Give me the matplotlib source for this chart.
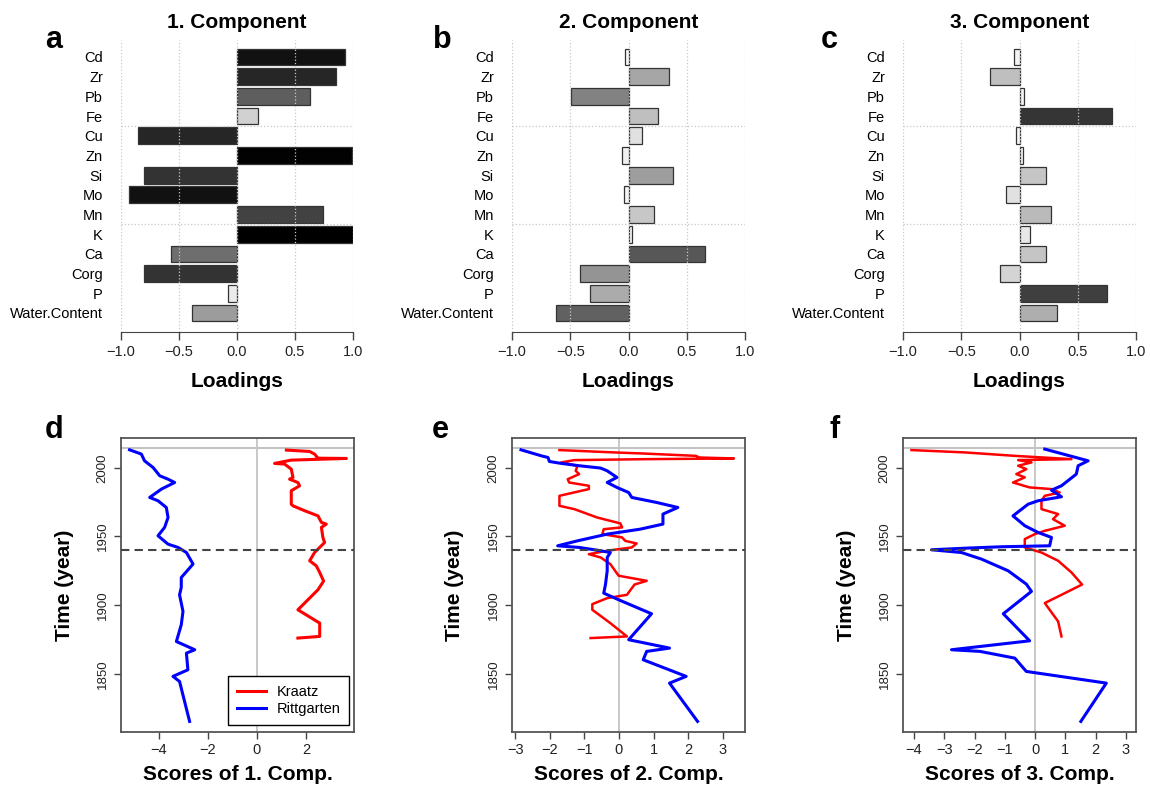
import numpy as np
import matplotlib
matplotlib.use('Agg')
import matplotlib.pyplot as plt

plt.rcParams['font.family'] = ['Liberation Sans', 'DejaVu Sans']

############################################################################################################
# Data

elements = ['Cd', 'Zr', 'Pb', 'Fe', 'Cu', 'Zn', 'Si', 'Mo', 'Mn', 'K', 'Ca', 'Corg', 'P', 'Water.Content']

load1 = [0.93, 0.85, 0.63, 0.18, -0.85, 0.99, -0.80, -0.93, 0.74, 1.00, -0.57, -0.80, -0.08, -0.39]
load2 = [-0.03, 0.35, -0.49, 0.25, 0.12, -0.06, 0.38, -0.04, 0.22, 0.03, 0.66, -0.42, -0.33, -0.62]
load3 = [-0.05, -0.25, 0.04, 0.79, -0.03, 0.03, 0.23, -0.12, 0.27, 0.09, 0.23, -0.17, 0.75, 0.32]

# Scores of 1. component
yr_k1 = [2012.9, 2011.9, 2010.0, 2007.0, 2006.8, 2005.6, 2003.2, 2002.7, 1999.0, 1993.0, 1991.7, 1989.3,
         1986.9, 1983.3, 1973.5, 1972.3, 1968.7, 1965.0, 1960.2, 1959.0, 1956.6, 1949.3, 1945.6, 1940.8,
         1938.3, 1932.3, 1928.6, 1923.8, 1917.5, 1911.2, 1896.6, 1886.9, 1877.2, 1876.0]
sc_k1 = [1.20, 2.15, 2.35, 2.49, 3.65, 1.40, 0.72, 1.13, 1.40, 1.47, 1.33, 1.67, 1.74, 1.40, 1.40, 1.47,
         1.95, 2.49, 2.63, 2.83, 2.63, 2.69, 2.76, 2.49, 2.35, 2.15, 2.42, 2.56, 2.72, 2.49, 1.67, 2.56,
         2.56, 1.67]
yr_r1 = [2013.1, 2010.0, 2005.1, 2000.2, 1994.2, 1991.7, 1989.3, 1984.5, 1978.4, 1976.0, 1971.1, 1963.8,
         1956.6, 1950.5, 1944.4, 1942.0, 1938.3, 1929.9, 1920.1, 1912.9, 1907.5, 1895.4, 1885.7, 1873.5,
         1867.5, 1865.0, 1852.9, 1848.1, 1844.4, 1815.3]
sc_r1 = [-5.20, -4.72, -4.59, -4.24, -3.97, -3.63, -3.36, -3.90, -4.38, -4.04, -3.70, -3.63, -3.77, -4.04,
         -3.63, -3.22, -2.88, -2.61, -3.09, -3.09, -3.16, -3.02, -3.09, -3.29, -2.54, -2.88, -2.82, -3.43,
         -3.16, -2.75]

# Scores of 2. component
yr_k2 = [2012.9, 2011.2, 2010.4, 2008.7, 2007.5, 2006.8, 2006.3, 2005.6, 2003.9, 2001.5, 1997.8, 1995.4,
         1991.7, 1989.3, 1986.9, 1984.5, 1979.6, 1972.3, 1969.9, 1963.8, 1959.5, 1956.6, 1955.3, 1951.7,
         1949.3, 1946.8, 1944.9, 1942.0, 1939.6, 1937.1, 1934.7, 1929.9, 1921.4, 1917.7, 1915.0, 1907.5,
         1905.1, 1900.7, 1896.6, 1886.9, 1877.2, 1876.0]
sc_k2 = [-1.72, -0.15, 0.70, 2.22, 2.32, 3.32, 0.80, -1.29, -1.67, -1.20, -1.25, -1.15, -1.48, -1.44,
         -0.87, -0.87, -1.72, -1.72, -1.29, -0.63, 0.04, 0.09, -0.44, -0.48, 0.09, 0.18, 0.51, 0.37,
         -0.34, -0.87, -0.53, -0.25, -0.01, 0.80, 0.45, 0.23, -0.34, -0.77, -0.77, -0.25, 0.23, -0.82]
yr_r2 = [2013.1, 2008.7, 2007.5, 2004.6, 2003.2, 2001.5, 1999.8, 1997.8, 1993.0, 1989.3, 1985.7, 1982.0,
         1978.4, 1974.8, 1971.1, 1966.3, 1959.0, 1955.3, 1951.7, 1946.8, 1943.2, 1942.0, 1940.0, 1938.3,
         1934.7, 1925.0, 1915.0, 1908.7, 1903.9, 1893.7, 1874.8, 1868.7, 1866.3, 1860.2, 1848.1, 1843.2,
         1815.3]
sc_r2 = [-2.83, -2.24, -2.05, -2.01, -1.67, -1.15, -0.53, -0.34, -0.06, -0.34, -0.06, 0.28, 0.37, 1.08,
         1.70, 1.27, 1.27, 0.61, -0.34, -1.20, -1.77, -1.15, -0.63, -0.25, -0.34, -0.34, -0.39, -0.44,
         -0.01, 0.94, 0.28, 1.46, 0.80, 0.70, 1.94, 1.46, 2.27]

# Scores of 3. component
yr_k3 = [2012.9, 2011.2, 2008.7, 2006.3, 2005.6, 2003.9, 2001.5, 1999.0, 1995.4, 1993.0, 1989.3, 1985.7,
         1984.5, 1982.0, 1979.6, 1976.0, 1969.9, 1966.3, 1962.6, 1957.8, 1954.1, 1951.7, 1948.1, 1942.0,
         1938.3, 1932.3, 1923.8, 1915.0, 1907.5, 1901.5, 1888.1, 1877.2]
sc_k3 = [-4.08, -2.32, -0.67, 1.20, -0.56, -0.12, -0.56, -0.29, -0.62, -0.34, -0.73, -0.18, 0.54, 0.81,
         0.32, 0.21, 0.21, 0.76, 0.59, 0.98, 0.32, -0.01, -0.34, -0.34, 0.21, 0.76, 1.20, 1.55, 0.87,
         0.32, 0.76, 0.87]
yr_r3 = [2013.6, 2005.1, 2001.5, 1995.4, 1986.9, 1983.7, 1978.9, 1976.0, 1973.5, 1965.0, 1957.8, 1952.9,
         1949.3, 1943.2, 1942.5, 1941.5, 1940.3, 1938.3, 1933.5, 1925.0, 1915.3, 1910.0, 1893.7, 1874.0,
         1867.5, 1866.3, 1861.4, 1851.7, 1843.2, 1815.3]
sc_r3 = [0.32, 1.75, 1.42, 1.36, 0.87, 0.54, 0.87, 0.10, -0.23, -0.73, -0.34, 0.10, 0.54, 0.48, -1.11,
         -2.26, -3.42, -2.43, -1.77, -0.89, -0.29, -0.12, -1.05, -0.18, -2.76, -1.82, -0.67, -0.29, 2.35,
         1.51]

sampling_year = 2014.3
break_year = 1940

############################################################################################################
# Layout helpers (pixel boxes)

W, H = 1150, 789

def box(l, t, r, b):
    return [l/W, 1 - b/H, (r - l)/W, (b - t)/H]

def ftext(x, y, s, **kw):
    fig.text(x/W, 1 - y/H, s, **kw)

fig = plt.figure(figsize=(W/100, H/100), dpi=100)

# Row 1: loadings
top_boxes = [(121, 353), (512, 745), (903, 1136)]
loads = [load1, load2, load3]
letters_top = ['a', 'b', 'c']

pos = np.arange(len(elements))[::-1]

for i, (l, r) in enumerate(top_boxes):
    ax = fig.add_axes(box(l, 40, r, 332))
    vals = np.array(loads[i])
    colors = plt.cm.gray_r(np.clip(np.abs(vals), 0, 1))
    ax.barh(pos, vals, height=0.85, color=colors, edgecolor='#333333', linewidth=0.9, zorder=2)

    for gx in [-1, -0.5, 0, 0.5, 1]:
        ax.axvline(gx, color='#c8c8c8', linestyle=':', linewidth=0.9, zorder=3)
    for gy in [9.5, 4.5]:
        ax.axhline(gy, color='#c8c8c8', linestyle=':', linewidth=0.9, zorder=3)

    ax.set_xlim(-1, 1)
    ax.set_ylim(-0.965, 13.863)
    ax.set_yticks(pos)
    ax.set_yticklabels(elements, fontsize=10.5)
    ax.set_xticks([-1, -0.5, 0, 0.5, 1])
    ax.set_xticklabels(['\u22121.0', '\u22120.5', '0.0', '0.5', '1.0'], fontsize=10.5)
    ax.tick_params(axis='y', length=0, pad=13)
    ax.tick_params(axis='x', length=6, width=1, color='#444444', pad=3, labelcolor='#222222')
    for s in ['top', 'right', 'left']:
        ax.spines[s].set_visible(False)
    ax.spines['bottom'].set_bounds(-1, 1)
    ax.spines['bottom'].set_color('#444444')

    cx = (l + r) / 2
    ftext(cx, 28, f'{i + 1}. Component', fontsize=15, fontweight='bold', ha='center', va='baseline')
    ftext(cx, 387, 'Loadings', fontsize=15, fontweight='bold', ha='center', va='baseline')
    ftext([45, 433, 821][i], 48, letters_top[i], fontsize=22, fontweight='bold', ha='left', va='baseline')

# Row 2: scores over time
bottom_boxes = [(121, 354), (512, 745), (903, 1136)]
kraatz = [(yr_k1, sc_k1), (yr_k2, sc_k2), (yr_k3, sc_k3)]
rittgarten = [(yr_r1, sc_r1), (yr_r2, sc_r2), (yr_r3, sc_r3)]
xlims = [(-5.55, 3.96), (-3.09, 3.64), (-4.36, 3.33)]
xticks = [[-4, -2, 0, 2], [-3, -2, -1, 0, 1, 2, 3], [-4, -3, -2, -1, 0, 1, 2, 3]]
red_lw = [2.2, 1.8, 1.8]
letters_bot = ['d', 'e', 'f']

for i, (l, r) in enumerate(bottom_boxes):
    ax = fig.add_axes(box(l, 438, r, 732))
    ax.axvline(0, color='#c4c4c4', linewidth=1.3, zorder=1)
    ax.axhline(sampling_year, color='#c4c4c4', linewidth=1.5, zorder=1)
    ax.axhline(break_year, color='#444444', linewidth=1.5, linestyle=(0, (4, 2.5)), zorder=4)

    ax.plot(kraatz[i][1], kraatz[i][0], color='#ff0000', linewidth=red_lw[i], label='Kraatz', zorder=3)
    ax.plot(rittgarten[i][1], rittgarten[i][0], color='#0000ff', linewidth=2.2, label='Rittgarten', zorder=3)

    ax.set_xlim(*xlims[i])
    ax.set_ylim(1807.6, 2021.7)
    ax.set_xticks(xticks[i])
    ax.set_xticklabels([str(t).replace('-', '\u2212') for t in xticks[i]], fontsize=10.5)
    ax.set_yticks([1850, 1900, 1950, 2000])
    ax.set_yticklabels(['1850', '1900', '1950', '2000'], fontsize=9.5, rotation=90, va='center')
    ax.tick_params(length=5, width=1, color='#444444', labelcolor='#222222')
    ax.tick_params(axis='x', pad=3)
    ax.tick_params(axis='y', pad=4)
    for s in ax.spines.values():
        s.set_color('#555555')
        s.set_linewidth(1.3)

    if i == 0:
        ax.legend(loc='lower right', bbox_to_anchor=(1 - 5/233, 7/294), borderaxespad=0,
                  fontsize=10.5, frameon=True, fancybox=False, edgecolor='black',
                  handlelength=2.0, handletextpad=0.7, labelspacing=0.25, borderpad=0.6, framealpha=1)
        ax.get_legend().get_frame().set_linewidth(1.0)

    cx = (l + r) / 2
    ftext(cx, 780, f'Scores of {i + 1}. Comp.', fontsize=15, fontweight='bold', ha='center', va='baseline')
    ftext(l - 57, 585, 'Time (year)', fontsize=15, fontweight='bold', ha='center', va='center', rotation=90)
    ftext([45, 432, 829][i], 438, letters_bot[i], fontsize=22, fontweight='bold', ha='left', va='baseline')

fig.savefig('out.png', dpi=100)
